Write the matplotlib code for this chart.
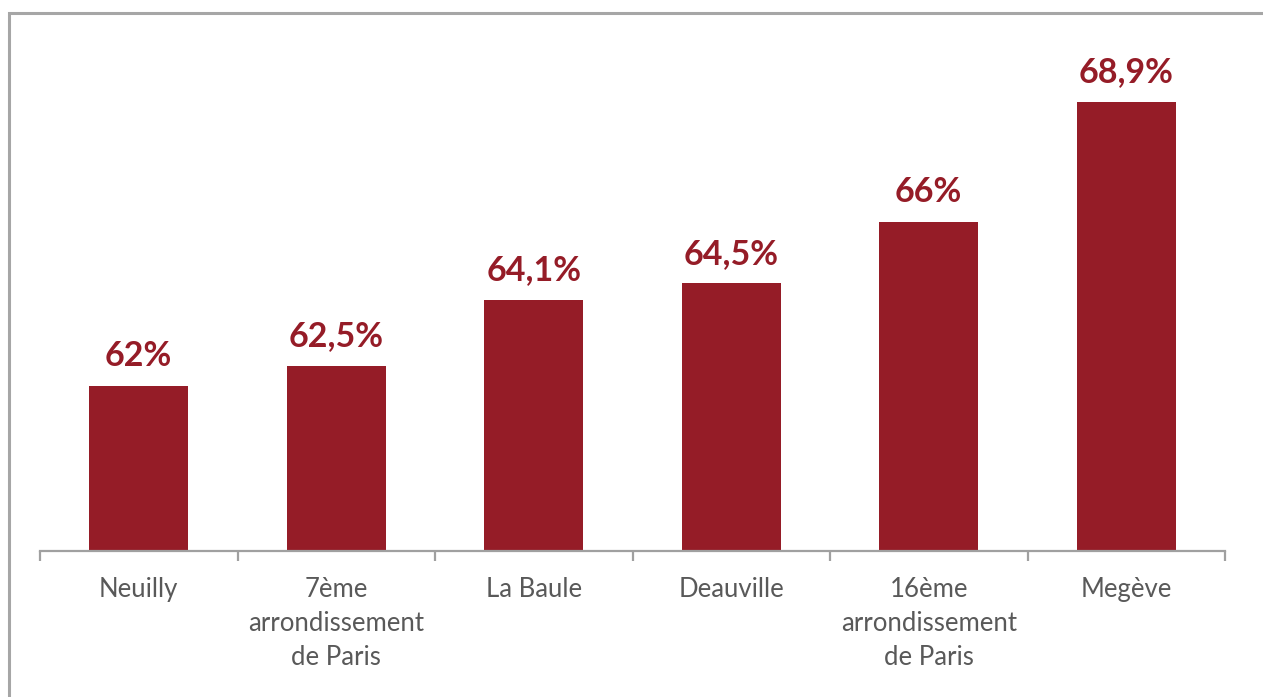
import matplotlib.pyplot as plt
from matplotlib.patches import Rectangle

# share of properties per area (%)
villes = ["Neuilly", "7ème\narrondissement\nde Paris", "La Baule", "Deauville",
          "16ème\narrondissement\nde Paris", "Megève"]
valeurs = [62.0, 62.5, 64.1, 64.5, 66.0, 68.9]
etiquettes = ["62%", "62,5%", "64,1%", "64,5%", "66%", "68,9%"]

rouge = "#951C27"
gris = "#595959"

plt.rcParams['font.family'] = ['Lato', 'DejaVu Sans']

fig = plt.figure(figsize=(12.63, 6.97), dpi=100)
fig.patch.set_facecolor("white")

# outer frame, open on the right and bottom
fig.patches.append(Rectangle((9 / 1263, -0.05), 1.1, 1 - 13 / 697 + 0.05,
                             transform=fig.transFigure, fill=False,
                             edgecolor="#A6A6A6", linewidth=2.2))

ymin, ymax = 58, 71
base = 1 - 551 / 697
px_per_unit = 41.16
height = 13 * px_per_unit / 697
ax = fig.add_axes([40 / 1263, base, (1225 - 40) / 1263, height])

x = range(len(villes))
ax.bar(x, valeurs, width=0.5, color=rouge, bottom=0)
ax.set_ylim(ymin, ymax)
ax.set_xlim(-0.5, len(villes) - 0.5)

for xi, v, t in zip(x, valeurs, etiquettes):
    ax.annotate(t, (xi, v), xytext=(0, 10), textcoords="offset points",
                ha="center", va="bottom", color=rouge, fontsize=24.5,
                fontweight="bold")

for s in ["top", "right", "left"]:
    ax.spines[s].set_visible(False)
ax.spines["bottom"].set_color("#A0A0A0")
ax.spines["bottom"].set_linewidth(1.6)
ax.set_yticks([])

ax.set_xticks(list(x))
ax.set_xticklabels(villes, color=gris, fontsize=18.5, linespacing=1.44)
ax.tick_params(axis="x", which="major", length=0, pad=19)
ax.set_xticks([i - 0.5 for i in range(len(villes) + 1)], minor=True)
ax.tick_params(axis="x", which="minor", length=7, width=1.6, color="#A0A0A0",
               direction="out")

fig.savefig("out.png", dpi=100)
